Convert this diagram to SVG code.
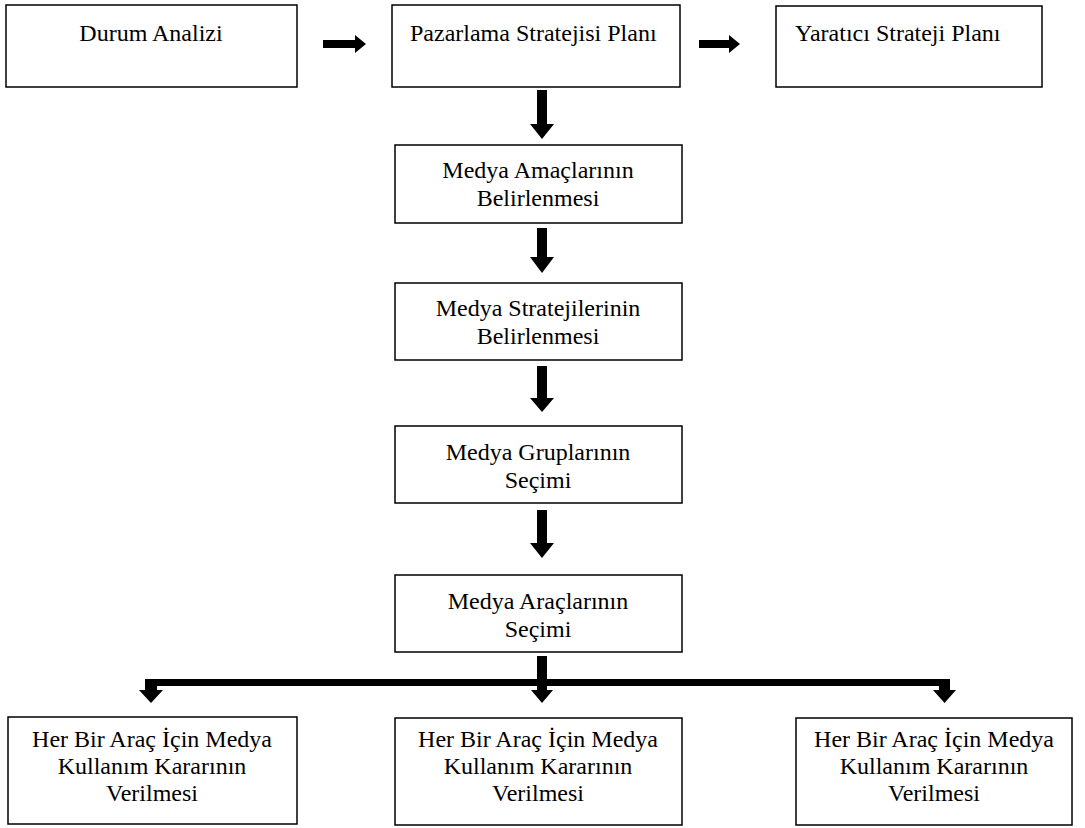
<svg xmlns="http://www.w3.org/2000/svg" width="1085" height="828" viewBox="0 0 1085 828">
<style>
.box{fill:#fff;stroke:#000;stroke-width:1.5}
.t{font-family:"Liberation Serif","Times New Roman",serif;font-size:24px;fill:#000}
.c{text-anchor:middle}
.arr{fill:#000;stroke:none}
</style>
<rect width="1085" height="828" fill="#fff"/>
<g id="n1"><rect class="box" x="6" y="5" width="291" height="82"/><text class="t c" x="151" y="41">Durum Analizi</text></g>
<g id="n2"><rect class="box" x="392" y="5" width="288" height="82"/><text class="t" x="410" y="41">Pazarlama Stratejisi Planı</text></g>
<g id="n3"><rect class="box" x="776" y="6" width="266" height="81"/><text class="t" x="795" y="41">Yaratıcı Strateji Planı</text></g>
<g id="n4"><rect class="box" x="395" y="145" width="287" height="78"/><text class="t c" x="538" y="178">Medya Amaçlarının</text><text class="t c" x="538" y="206">Belirlenmesi</text></g>
<g id="n5"><rect class="box" x="395" y="283" width="287" height="77"/><text class="t c" x="538" y="316">Medya Stratejilerinin</text><text class="t c" x="538" y="344">Belirlenmesi</text></g>
<g id="n6"><rect class="box" x="395" y="426" width="287" height="77"/><text class="t c" x="538" y="460">Medya Gruplarının</text><text class="t c" x="538" y="488">Seçimi</text></g>
<g id="n7"><rect class="box" x="395" y="575" width="287" height="77"/><text class="t c" x="538" y="609">Medya Araçlarının</text><text class="t c" x="538" y="637">Seçimi</text></g>
<g id="n8"><rect class="box" x="8" y="717" width="289" height="107"/><text class="t c" x="152" y="747">Her Bir Araç İçin Medya</text><text class="t c" x="152" y="774">Kullanım Kararının</text><text class="t c" x="152" y="801">Verilmesi</text></g>
<g id="n9"><rect class="box" x="395" y="718" width="287" height="107"/><text class="t c" x="538" y="747">Her Bir Araç İçin Medya</text><text class="t c" x="538" y="774">Kullanım Kararının</text><text class="t c" x="538" y="801">Verilmesi</text></g>
<g id="n10"><rect class="box" x="796" y="718" width="276" height="107"/><text class="t c" x="934" y="747">Her Bir Araç İçin Medya</text><text class="t c" x="934" y="774">Kullanım Kararının</text><text class="t c" x="934" y="801">Verilmesi</text></g>
<g id="connectors">
<path class="arr" d="M323,40 H355 V35 L366,44 L355,53 V48 H323 Z"/>
<path class="arr" d="M699,40 H729 V35 L740,44 L729,53 V48 H699 Z"/>
<path class="arr" d="M537,90 H547 V124 H554 L542,139 L530,124 H537 Z"/>
<path class="arr" d="M537,228 H547 V257 H554 L542,273 L530,257 H537 Z"/>
<path class="arr" d="M537,366 H547 V398 H554 L542,412 L530,398 H537 Z"/>
<path class="arr" d="M537,510 H547 V543 H554 L542,558 L530,543 H537 Z"/>
<path class="arr" d="M537,656 H547 V690 H553 L542,703 L531,690 H537 Z"/>
<path class="arr" d="M145,679 H950 V690 H956 L944.5,703 L933,690 H939 V686 H157 V690 H163 L151,703 L139,690 H145 Z"/>
</g>
</svg>
